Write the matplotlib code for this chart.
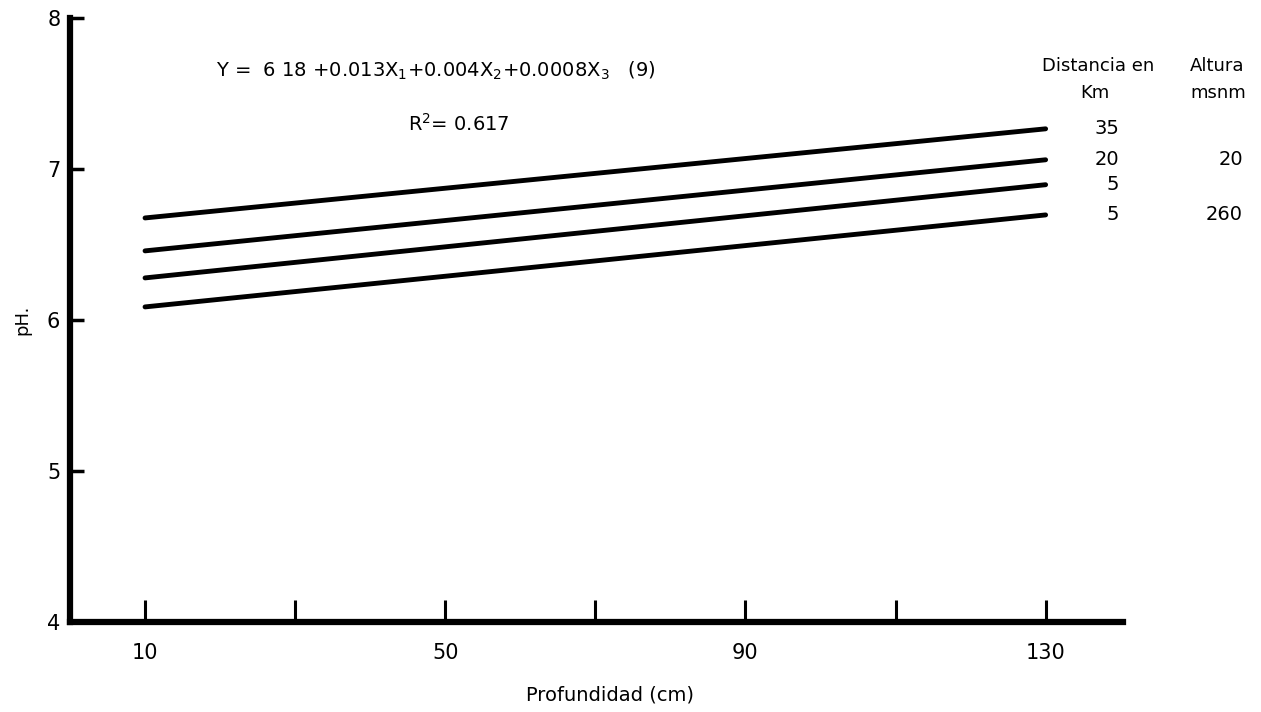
import matplotlib
matplotlib.use("Agg")
import matplotlib.pyplot as plt
from matplotlib.ticker import FixedLocator

# Data
depth = [10, 130]
line_35km = [6.675, 7.265]
line_20km_20m = [6.457, 7.06]
line_5km = [6.278, 6.895]
line_5km_260m = [6.086, 6.695]
series = [line_35km, line_20km_20m, line_5km, line_5km_260m]
dist_labels = ["35", "20", "5", "5"]
alt_labels = ["", "20", "", "260"]
major_xticks = [10, 50, 90, 130]
minor_xticks = [30, 70, 110]
yticks = [4, 5, 6, 7, 8]

plt.rcParams['font.family'] = ['DejaVu Sans']
fig = plt.figure(figsize=(12.61, 7.12), dpi=100)
ax = fig.add_axes([0.0555, 0.1264, 0.835, 0.8486])

for s in series:
    ax.plot(depth, s, color='black', lw=3.5, solid_capstyle='round')

ax.set_xlim(0, 140.3)
ax.set_ylim(4, 8)
ax.spines['top'].set_visible(False)
ax.spines['right'].set_visible(False)
for sp in ('left', 'bottom'):
    ax.spines[sp].set_linewidth(4.5)
    ax.spines[sp].set_color('black')

ax.xaxis.set_major_locator(FixedLocator(major_xticks))
ax.xaxis.set_minor_locator(FixedLocator(minor_xticks))
ax.set_xticklabels([str(v) for v in major_xticks])
ax.tick_params(axis='x', which='both', direction='in', length=16, width=2.2,
               pad=15, labelsize=15)
ax.set_yticks(yticks)
ax.set_yticklabels([str(v) for v in yticks])
ax.tick_params(axis='y', direction='in', length=10, width=2.5, pad=7, labelsize=15)

# Equation
ax.text(19.5, 7.65, r"Y =  6 18 +0.013X$_1$+0.004X$_2$+0.0008X$_3$   (9)",
        fontsize=14, ha='left', va='center')
ax.text(45.1, 7.30, r"R$^2$= 0.617", fontsize=14, ha='left', va='center')

# Legend-like labels
ax.text(137.0, 7.68, "Distancia en", fontsize=13, ha='center', va='center', clip_on=False)
ax.text(136.6, 7.50, "Km", fontsize=13, ha='center', va='center', clip_on=False)
ax.text(152.9, 7.68, "Altura", fontsize=13, ha='center', va='center', clip_on=False)
ax.text(153.0, 7.50, "msnm", fontsize=13, ha='center', va='center', clip_on=False)
for s, d, a in zip(series, dist_labels, alt_labels):
    ax.text(139.8, s[1], d, fontsize=14, ha='right', va='center', clip_on=False)
    if a:
        ax.text(156.3, s[1], a, fontsize=14, ha='right', va='center', clip_on=False)

fig.text(22/1261, 1-320/712, "pH.", rotation=90, fontsize=13, ha='center', va='center')
fig.text(610/1261, 1-695/712, "Profundidad (cm)", fontsize=14, ha='center', va='center')

fig.savefig("out.png", dpi=100)
